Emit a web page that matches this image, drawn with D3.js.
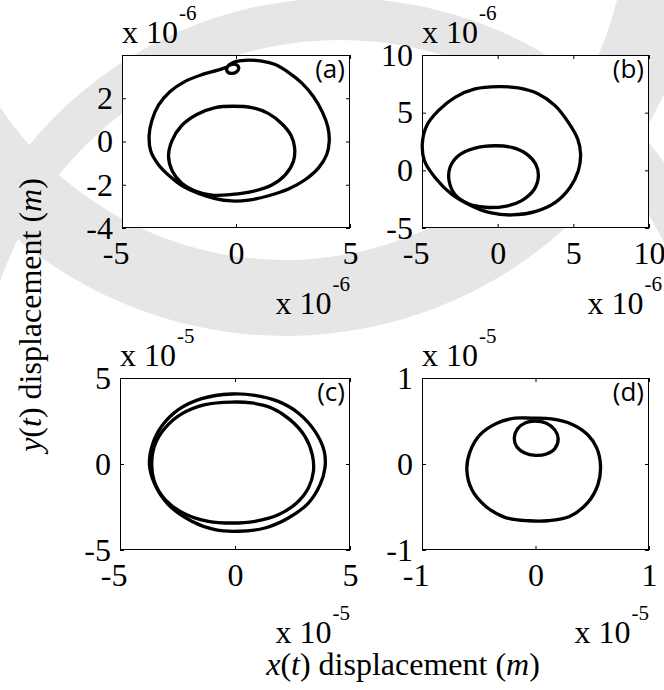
<!DOCTYPE html>
<html>
<head>
<meta charset="utf-8">
<script src="https://cdn.jsdelivr.net/npm/d3@7"></script>
<style>
  html, body { margin: 0; padding: 0; background: #fff; }
  svg { display: block; }
</style>
</head>
<body>
<svg id="fig" width="664" height="690"></svg>
<script>
// ---- panel settings (values shown in units of 10^exponent metres) ----
const panelNames = ["(a)", "(b)", "(c)", "(d)"];
const exponents = [-6, -6, -5, -5];
const xDomains = [[-5, 5], [-5, 10], [-5, 5], [-1, 1]];
const yDomains = [[-4, 4], [-5, 10], [-5, 5], [-1, 1]];
const xTicks = [[-5, 0, 5], [-5, 0, 5, 10], [-5, 0, 5], [-1, 0, 1]];
const yTicks = [[-4, -2, 0, 2], [-5, 0, 5, 10], [-5, 0, 5], [-1, 0, 1]];

// ---- phase-plane orbits: [x, y] samples along each trajectory ----
// (a) large transient loop, starting from the small curl at the top
const orbitA1 = [[0.55,3.76],[1.13,3.72],[1.72,3.56],[2.30,3.20],[2.89,2.70],[3.40,2.07],[3.79,1.36],[4.03,0.66],[4.09,0.03],[3.98,-0.60],[3.62,-1.22],[3.03,-1.77],[2.30,-2.20],[1.43,-2.51],[0.55,-2.71],[-0.18,-2.75],[-0.91,-2.64],[-1.64,-2.40],[-2.30,-2.09],[-2.89,-1.62],[-3.40,-1.07],[-3.74,-0.44],[-3.81,0.27],[-3.69,0.97],[-3.40,1.68],[-2.89,2.31],[-2.23,2.78],[-1.50,3.09],[-0.84,3.29],[-0.45,3.42],[-0.25,3.54],[0.00,3.56],[0.12,3.40],[0.02,3.22],[-0.22,3.15],[-0.40,3.27],[-0.36,3.48],[-0.10,3.66],[0.25,3.74]];
// (a) settled inner cycle
const orbitA2 = [[-0.11,1.63],[0.69,1.57],[1.43,1.29],[2.01,0.82],[2.42,0.27],[2.57,-0.28],[2.52,-0.91],[2.16,-1.54],[1.57,-2.01],[0.69,-2.32],[-0.18,-2.45],[-1.06,-2.48],[-1.79,-2.29],[-2.38,-1.93],[-2.79,-1.38],[-2.96,-0.67],[-2.81,0.03],[-2.38,0.74],[-1.72,1.25],[-0.91,1.57]];
// (b) outer and inner loops
const orbitB1 = [[0.05,7.26],[1.37,7.14],[2.69,6.62],[3.79,5.61],[4.67,4.16],[5.29,2.71],[5.48,1.41],[5.33,-0.04],[4.78,-1.49],[3.79,-2.80],[2.47,-3.58],[0.93,-3.87],[-0.50,-3.67],[-1.71,-3.09],[-3.04,-2.07],[-4.14,-0.62],[-4.84,0.83],[-4.98,2.28],[-4.69,3.87],[-3.92,5.17],[-2.82,6.33],[-1.50,7.06]];
const orbitB2 = [[-0.17,2.13],[0.93,1.99],[1.92,1.41],[2.51,0.54],[2.69,-0.48],[2.42,-1.64],[1.59,-2.62],[0.49,-3.12],[-0.83,-3.20],[-1.93,-2.90],[-2.82,-2.10],[-3.21,-0.91],[-3.15,0.25],[-2.60,1.26],[-1.50,1.93]];
// (c) two nested cycles
const orbitC1 = [[-0.14,4.07],[0.87,3.99],[1.88,3.64],[2.75,2.97],[3.48,1.90],[3.88,0.74],[3.91,-0.23],[3.70,-1.20],[3.19,-2.27],[2.32,-3.14],[1.30,-3.72],[0.14,-3.91],[-0.87,-3.82],[-1.88,-3.33],[-2.90,-2.36],[-3.48,-1.20],[-3.72,-0.04],[-3.59,1.12],[-3.19,2.19],[-2.46,3.16],[-1.45,3.80]];
const orbitC2 = [[-0.14,3.60],[0.72,3.55],[1.59,3.26],[2.39,2.58],[3.04,1.61],[3.36,0.54],[3.41,-0.43],[3.19,-1.40],[2.68,-2.27],[1.88,-2.95],[0.87,-3.33],[-0.14,-3.43],[-1.16,-3.33],[-2.17,-2.91],[-3.04,-2.07],[-3.51,-1.01],[-3.62,0.06],[-3.48,1.12],[-3.04,2.09],[-2.32,2.91],[-1.30,3.45]];
// (d) large loop with a small loop inside at the top
const orbitD1 = [[-0.035,0.533],[0.14,0.525],[0.32,0.463],[0.46,0.34],[0.54,0.185],[0.573,-0.027],[0.55,-0.24],[0.46,-0.45],[0.30,-0.61],[0.11,-0.66],[-0.064,-0.66],[-0.27,-0.62],[-0.44,-0.49],[-0.56,-0.30],[-0.605,-0.066],[-0.576,0.147],[-0.49,0.34],[-0.34,0.475],[-0.18,0.533]];
const orbitD2 = [[-0.006,0.50],[0.096,0.475],[0.17,0.397],[0.20,0.293],[0.17,0.178],[0.096,0.116],[0.0,0.10],[-0.094,0.127],[-0.167,0.205],[-0.187,0.30],[-0.158,0.41],[-0.088,0.48]];

const orbits = [[orbitA1, orbitA2], [orbitB1, orbitB2], [orbitC1, orbitC2], [orbitD1, orbitD2]];

// ---- layout ----
const boxes = [
  { x0: 122, x1: 350, y0: 55,  y1: 228, expDx: 0,  expBase: 86 },
  { x0: 422, x1: 649, y0: 55,  y1: 228, expDx: 13, expBase: 86 },
  { x0: 120, x1: 350, y0: 378, y1: 550, expDx: 0,  expBase: 93 },
  { x0: 422, x1: 649, y0: 378, y1: 550, expDx: 0,  expBase: 93 }
];
const serif = '"Liberation Serif", "Times New Roman", Times, serif';
const tickFont = 32, supFont = 21, titleFont = 32;

const svg = d3.select("#fig");

// faint background emblem
const wmColor = "#e6e6e6";
const wm = svg.append("g");
wm.append("path")
  .attr("transform", "translate(340,400)")
  .attr("d", d3.arc()({ innerRadius: 360, outerRadius: 402,
                        startAngle: -Math.PI / 2, endAngle: Math.PI / 2 }))
  .attr("fill", wmColor);
wm.append("path")
  .attr("transform", "translate(285,-82)")
  .attr("d", d3.arc()({ innerRadius: 342, outerRadius: 418,
                        startAngle: 95 * Math.PI / 180, endAngle: 240 * Math.PI / 180 }))
  .attr("fill", wmColor);

boxes.forEach((b, i) => {
  const x = d3.scaleLinear().domain(xDomains[i]).range([b.x0, b.x1]);
  const y = d3.scaleLinear().domain(yDomains[i]).range([b.y1, b.y0]);
  const g = svg.append("g");

  g.append("rect")
    .attr("x", b.x0).attr("y", b.y0)
    .attr("width", b.x1 - b.x0).attr("height", b.y1 - b.y0)
    .attr("fill", "#fff");

  // orbits
  const line = d3.line()
    .x(d => x(d[0])).y(d => y(d[1]))
    .curve(d3.curveCatmullRomClosed.alpha(0.5));
  g.selectAll("path.orbit").data(orbits[i]).join("path")
    .attr("class", "orbit")
    .attr("d", line)
    .attr("fill", "none").attr("stroke", "#000")
    .attr("stroke-width", 3.3).attr("stroke-linejoin", "round");

  const fmt = d => String(d);

  // bottom axis with labels
  const ax = g.append("g").attr("transform", `translate(0,${b.y1})`)
    .call(d3.axisBottom(x).tickValues(xTicks[i]).tickSize(-4).tickSizeOuter(0).tickFormat(fmt));
  ax.selectAll("text")
    .attr("y", 36).attr("dy", null)
    .attr("dx", d => d < 0 ? "-0.2em" : 0);
  // left axis with labels
  const ay = g.append("g").attr("transform", `translate(${b.x0},0)`)
    .call(d3.axisLeft(y).tickValues(yTicks[i]).tickSize(-4).tickSizeOuter(0).tickFormat(fmt));
  ay.selectAll("text").attr("x", -9);
  // mirrored ticks on top and right
  g.append("g").attr("transform", `translate(0,${b.y0})`)
    .call(d3.axisTop(x).tickValues(xTicks[i]).tickSize(-4).tickSizeOuter(0).tickFormat(""));
  g.append("g").attr("transform", `translate(${b.x1},0)`)
    .call(d3.axisRight(y).tickValues(yTicks[i]).tickSize(-4).tickSizeOuter(0).tickFormat(""));

  g.selectAll(".domain").remove();
  g.selectAll(".tick line").attr("stroke", "#000");
  g.selectAll(".tick text")
    .attr("fill", "#000")
    .style("font-family", serif).style("font-size", tickFont + "px");

  // box outline
  g.append("rect")
    .attr("x", b.x0 + 0.5).attr("y", b.y0 + 0.5)
    .attr("width", b.x1 - b.x0 - 1).attr("height", b.y1 - b.y0 - 1)
    .attr("fill", "none").attr("stroke", "#000").attr("stroke-width", 1);

  // exponent multipliers
  const expTop = g.append("text")
    .attr("x", b.x0).attr("y", b.y0 - 12)
    .style("font-family", serif).style("font-size", tickFont + "px");
  expTop.append("tspan").text("x 10");
  expTop.append("tspan").style("font-size", supFont + "px").attr("dx", 1).attr("dy", -23).text(String(exponents[i]));

  const expBot = g.append("text")
    .attr("x", b.x1 + b.expDx).attr("y", b.y1 + b.expBase)
    .attr("text-anchor", "end")
    .style("font-family", serif).style("font-size", tickFont + "px");
  expBot.append("tspan").text("x 10");
  expBot.append("tspan").style("font-size", supFont + "px").attr("dx", 1).attr("dy", -23).text(String(exponents[i]));

  // panel tag
  g.append("text")
    .attr("x", b.x1 - 5).attr("y", b.y0 + 23)
    .attr("text-anchor", "end")
    .style("font-family", '"Open Sans", sans-serif').style("font-size", "26px")
    .text(panelNames[i]);
});

// shared axis titles
function title(sel, letter) {
  sel.append("tspan").style("font-style", "italic").text(letter);
  sel.append("tspan").text("(");
  sel.append("tspan").style("font-style", "italic").text("t");
  sel.append("tspan").text(") displacement (");
  sel.append("tspan").style("font-style", "italic").text("m");
  sel.append("tspan").text(")");
}
title(svg.append("text")
  .attr("transform", "translate(41,315) rotate(-90)")
  .attr("text-anchor", "middle")
  .style("font-family", serif).style("font-size", titleFont + "px"), "y");

title(svg.append("text")
  .attr("x", 403).attr("y", 675)
  .attr("text-anchor", "middle")
  .style("font-family", serif).style("font-size", titleFont + "px"), "x");
</script>
</body>
</html>
